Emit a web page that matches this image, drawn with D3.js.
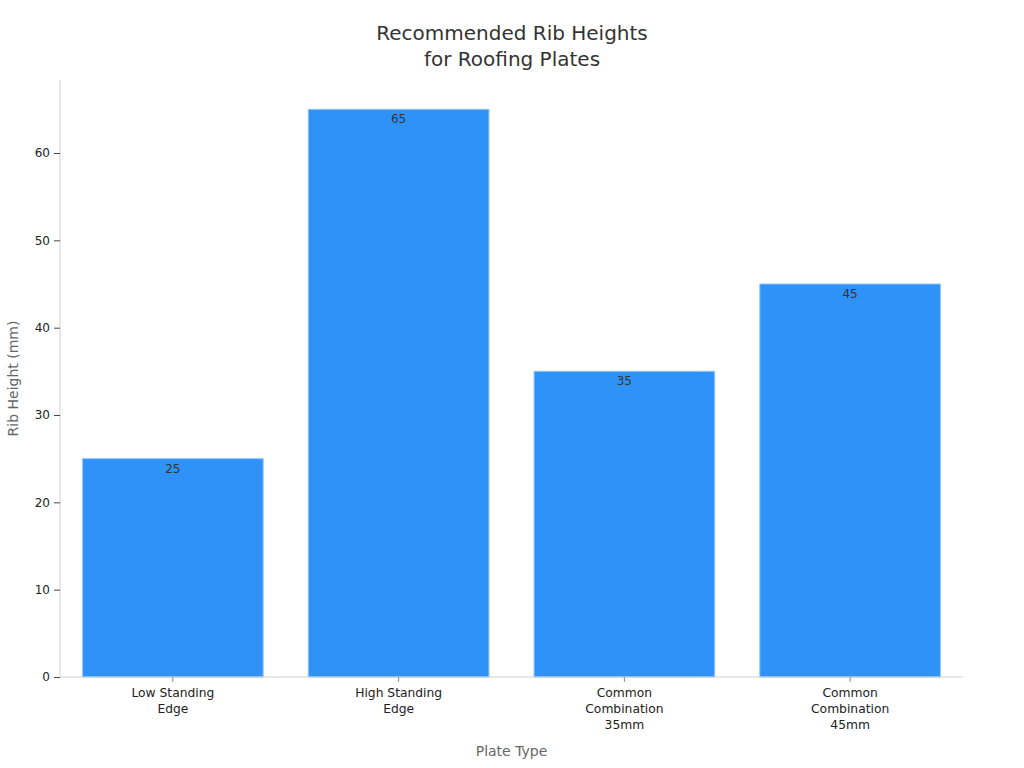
<!DOCTYPE html>
<html><head><meta charset="utf-8">
<script src="https://cdn.jsdelivr.net/npm/d3@7"></script>
<style>body{margin:0;background:#fff;font-family:"DejaVu Sans",sans-serif;}</style>
</head><body>
<svg id="chart" width="1024" height="768"></svg>
<script>
const categories = [["Low Standing","Edge"],["High Standing","Edge"],["Common","Combination","35mm"],["Common","Combination","45mm"]];
const values = [25, 65, 35, 45];
const yTicks = [0, 10, 20, 30, 40, 50, 60];
const titleLines = ["Recommended Rib Heights", "for Roofing Plates"];

const svg = d3.select("#chart");
const m = {l:60, r:61, t:80, b:91};
const W = 1024, H = 768;
const x = d3.scaleBand().domain(d3.range(values.length)).range([m.l, W-m.r]).paddingInner(0.2).paddingOuter(0.1);
const y = d3.scaleLinear().domain([0, 68.36]).range([H-m.b, m.t]);

svg.append("text").attr("x", 512).attr("text-anchor","middle").attr("font-size",20).attr("fill","#333")
  .selectAll("tspan").data(titleLines).join("tspan").attr("x",512).attr("y",(d,i)=>40+i*26).text(d=>d);

svg.selectAll("rect.bar").data(values).join("rect").attr("class","bar")
  .attr("x",(d,i)=>x(i)).attr("width",x.bandwidth())
  .attr("y",d=>y(d)).attr("height",d=>y(0)-y(d))
  .attr("fill","#2f92f8").attr("stroke","#8cc4fb").attr("stroke-width",1);

svg.selectAll("text.val").data(values).join("text").attr("class","val")
  .attr("x",(d,i)=>x(i)+x.bandwidth()/2).attr("y",d=>y(d)+14)
  .attr("text-anchor","middle").attr("font-size",12).attr("fill","#333").text(d=>d);

// y axis
const ya = svg.append("g").attr("transform",`translate(${m.l},0)`)
  .call(d3.axisLeft(y).tickValues(yTicks).tickSize(6).tickPadding(4));
ya.select(".domain").attr("stroke","#d0d0d0").attr("d",`M0,${m.t}V${H-m.b}`);
ya.selectAll(".tick line").attr("stroke","#444");
ya.selectAll(".tick text").attr("font-size",12).attr("fill","#222").attr("font-family","DejaVu Sans");

// x axis
const xa = svg.append("g").attr("transform",`translate(0,${H-m.b})`)
  .call(d3.axisBottom(x).tickSize(5).tickFormat(""));
xa.select(".domain").attr("stroke","#d0d0d0").attr("d",`M${m.l},0H${W-m.r}`);
xa.selectAll(".tick line").attr("stroke","#888");
xa.selectAll(".tick").each(function(d){
  const t = d3.select(this).append("text").attr("fill","#222").attr("font-size",12.3)
    .attr("font-family","DejaVu Sans").attr("text-anchor","middle");
  categories[d].forEach((s,i)=>t.append("tspan").attr("x",0).attr("y",20+i*16).text(s));
});

svg.append("text").attr("x", (m.l+W-m.r)/2).attr("y", 756).attr("text-anchor","middle")
  .attr("font-size",14).attr("fill","#666").text("Plate Type");
svg.append("text").attr("transform",`translate(18,${(m.t+H-m.b)/2}) rotate(-90)`).attr("text-anchor","middle")
  .attr("font-size",14).attr("fill","#666").text("Rib Height (mm)");
</script>
</body></html>
